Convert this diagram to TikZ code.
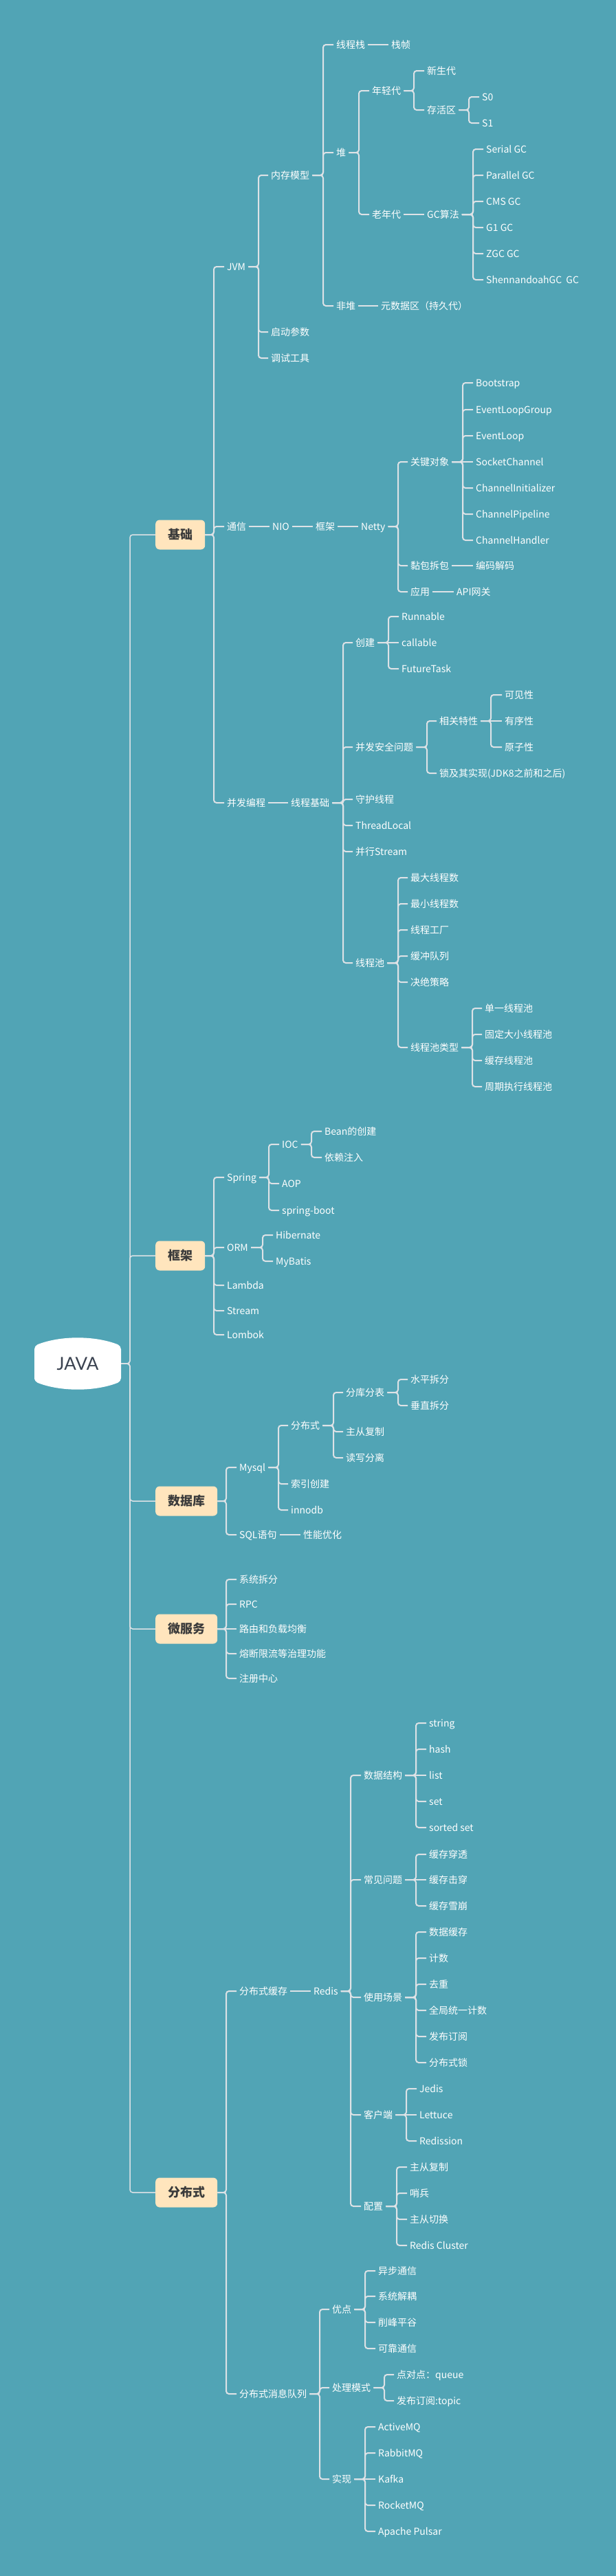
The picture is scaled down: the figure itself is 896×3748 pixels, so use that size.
\documentclass[tikz,border=0pt]{standalone}
\usepackage{fontspec}
\setmainfont{Noto Sans CJK SC}
\newfontfamily\javafont{Lato}
\usetikzlibrary{calc}
\definecolor{bg}{HTML}{51A4B5}
\definecolor{ln}{HTML}{DDE2E6}
\definecolor{boxfill}{HTML}{FFE5BD}
\definecolor{boxtext}{HTML}{3B3B3B}
\definecolor{javatext}{HTML}{3A4250}
\tikzset{
 leaf/.style={anchor=west, inner xsep=4pt, inner ysep=0pt, text height=12pt, text depth=2pt, text=white, font=\fontsize{14}{16}\selectfont},
 topic/.style={anchor=west, fill=boxfill, rounded corners=6pt, minimum height=43pt, inner xsep=18pt, inner ysep=0pt, text=boxtext, font=\bfseries\fontsize{18}{20}\selectfont, text height=15pt, text depth=1.5pt},
 conn/.style={draw=ln, line width=2pt, rounded corners=4pt},
 rootconn/.style={draw=ln, line width=1.5pt, rounded corners=4pt},
}
\newcommand\nd[4]{\node[leaf] (#1) at ({#2-4},#3) {#4};}
\newcommand\lk[3]{\draw[conn] let \p1=(#1.east), \p2=(#3.west) in (\p1) -- (#2pt,\y1) -- (#2pt,\y2) -- (\p2);}
\newcommand\rlk[3]{\draw[rootconn] let \p1=(#1.east), \p2=(#3.west) in (\p1) -- (#2pt,\y1) -- (#2pt,\y2) -- (\p2);}
\newcommand\st[2]{\draw[conn] (#1.east) -- (#2.west);}
\begin{document}
\begin{tikzpicture}[x=1pt,y=-1pt]
\fill[bg] (0,0) rectangle (896,3748);
\useasboundingbox (0,0) rectangle (896,3748);
% root
\fill[white, rounded corners=5pt] (50,2010) -- (50,1958) .. controls (88,1943) and (138,1943) .. (176,1958) -- (176,2010) .. controls (138,2025) and (88,2025) .. (50,2010) -- cycle;
\node[font=\javafont\fontsize{26}{28}\selectfont, text=javatext, minimum width=126pt, minimum height=60pt, inner sep=0pt] (java) at (113,1984) {JAVA};
% main topics
\node[topic] (jichu) at (226,778) {基础};
\node[topic] (kuangjia) at (226,1827) {框架};
\node[topic] (shujuku) at (226,2184) {数据库};
\node[topic] (weifuwu) at (226,2370) {微服务};
\node[topic] (fenbushi) at (226,3190) {分布式};
\rlk{java}{189}{jichu}
\rlk{java}{189}{kuangjia}
\rlk{java}{189}{shujuku}
\rlk{java}{189}{weifuwu}
\rlk{java}{189}{fenbushi}
% ===== 基础 =====
\nd{jvm}{330}{388}{JVM}
\nd{tongxin}{330}{766}{通信}
\nd{bingfa}{330}{1168}{并发编程}
\lk{jichu}{311}{jvm}
\lk{jichu}{311}{tongxin}
\lk{jichu}{311}{bingfa}
% JVM
\nd{ncmx}{394}{255}{内存模型}
\nd{qdcs}{394}{483}{启动参数}
\nd{tsgj}{394}{521}{调试工具}
\lk{jvm}{376}{ncmx}
\lk{jvm}{376}{qdcs}
\lk{jvm}{376}{tsgj}
\nd{xcz}{489}{65}{线程栈}
\nd{dui}{489}{222}{堆}
\nd{fd}{489}{445}{非堆}
\lk{ncmx}{470}{xcz}
\lk{ncmx}{470}{dui}
\lk{ncmx}{470}{fd}
\nd{zz}{569}{65}{栈帧}
\st{xcz}{zz}
\nd{ysj}{554}{445}{元数据区（持久代）}
\st{fd}{ysj}
\nd{nqd}{541}{132}{年轻代}
\nd{lnd}{541}{312}{老年代}
\lk{dui}{522}{nqd}
\lk{dui}{522}{lnd}
\nd{xsd}{621}{103}{新生代}
\nd{chq}{621}{160}{存活区}
\lk{nqd}{602}{xsd}
\lk{nqd}{602}{chq}
\nd{szero}{701}{141}{S0}
\nd{sone}{701}{179}{S1}
\lk{chq}{682}{szero}
\lk{chq}{682}{sone}
\nd{gcsf}{621}{312}{GC算法}
\st{lnd}{gcsf}
\nd{gca}{707}{217}{Serial GC}
\nd{gcb}{707}{255}{Parallel GC}
\nd{gcc}{707}{293}{CMS GC}
\nd{gcd}{707}{331}{G1 GC}
\nd{gce}{707}{369}{ZGC GC}
\nd{gcf}{707}{407}{ShennandoahGC\ \ GC}
\lk{gcsf}{688}{gca}
\lk{gcsf}{688}{gcb}
\lk{gcsf}{688}{gcc}
\lk{gcsf}{688}{gcd}
\lk{gcsf}{688}{gce}
\lk{gcsf}{688}{gcf}
% 通信
\nd{nio}{396}{766}{NIO}
\nd{kjb}{459}{766}{框架}
\nd{netty}{525}{766}{Netty}
\st{tongxin}{nio}
\st{nio}{kjb}
\st{kjb}{netty}
\nd{gjdx}{597}{672}{关键对象}
\nd{nbcb}{597}{823}{黏包拆包}
\nd{yy}{597}{861}{应用}
\lk{netty}{579}{gjdx}
\lk{netty}{579}{nbcb}
\lk{netty}{579}{yy}
\nd{bs}{692}{557}{Bootstrap}
\nd{elg}{692}{596}{EventLoopGroup}
\nd{el}{692}{634}{EventLoop}
\nd{sc}{692}{672}{SocketChannel}
\nd{ci}{692}{710}{ChannelInitializer}
\nd{cp}{692}{748}{ChannelPipeline}
\nd{ch}{692}{786}{ChannelHandler}
\lk{gjdx}{673}{bs}
\lk{gjdx}{673}{elg}
\lk{gjdx}{673}{el}
\st{gjdx}{sc}
\lk{gjdx}{673}{ci}
\lk{gjdx}{673}{cp}
\lk{gjdx}{673}{ch}
\nd{bmjm}{692}{823}{编码解码}
\st{nbcb}{bmjm}
\nd{apiwg}{664}{861}{API网关}
\st{yy}{apiwg}
% 并发编程
\nd{xcjc}{423}{1168}{线程基础}
\st{bingfa}{xcjc}
\nd{cj}{517}{935}{创建}
\nd{bfaq}{517}{1087}{并发安全问题}
\nd{shxc}{517}{1163}{守护线程}
\nd{tl}{517}{1201}{ThreadLocal}
\nd{bxs}{517}{1239}{并行Stream}
\nd{xcc}{517}{1401}{线程池}
\lk{xcjc}{499}{cj}
\lk{xcjc}{499}{bfaq}
\lk{xcjc}{499}{shxc}
\lk{xcjc}{499}{tl}
\lk{xcjc}{499}{bxs}
\lk{xcjc}{499}{xcc}
\nd{runnable}{584}{897}{Runnable}
\nd{callable}{584}{935}{callable}
\nd{ft}{584}{973}{FutureTask}
\lk{cj}{565}{runnable}
\st{cj}{callable}
\lk{cj}{565}{ft}
\nd{xgtx}{639}{1049}{相关特性}
\nd{sjqs}{639}{1125}{锁及其实现(JDK8之前和之后)}
\lk{bfaq}{621}{xgtx}
\lk{bfaq}{621}{sjqs}
\nd{kjx}{734}{1011}{可见性}
\nd{yxx}{734}{1049}{有序性}
\nd{yzx}{734}{1087}{原子性}
\lk{xgtx}{714}{kjx}
\st{xgtx}{yxx}
\lk{xgtx}{714}{yzx}
\nd{zdxc}{597}{1277}{最大线程数}
\nd{zxxc}{597}{1315}{最小线程数}
\nd{xcgc}{597}{1353}{线程工厂}
\nd{hcdl}{597}{1391}{缓冲队列}
\nd{jjcl}{597}{1429}{决绝策略}
\nd{xcclx}{597}{1524}{线程池类型}
\lk{xcc}{579}{zdxc}
\lk{xcc}{579}{zxxc}
\lk{xcc}{579}{xcgc}
\lk{xcc}{579}{hcdl}
\lk{xcc}{579}{jjcl}
\lk{xcc}{579}{xcclx}
\nd{dyxc}{705}{1467}{单一线程池}
\nd{gddx}{705}{1505}{固定大小线程池}
\nd{hcxc}{705}{1543}{缓存线程池}
\nd{zqzx}{705}{1581}{周期执行线程池}
\lk{xcclx}{687}{dyxc}
\lk{xcclx}{687}{gddx}
\lk{xcclx}{687}{hcxc}
\lk{xcclx}{687}{zqzx}
% ===== 框架 =====
\nd{spring}{330}{1713}{Spring}
\nd{orm}{330}{1815}{ORM}
\nd{lambda}{330}{1870}{Lambda}
\nd{stream}{330}{1907}{Stream}
\nd{lombok}{330}{1942}{Lombok}
\lk{kuangjia}{311}{spring}
\lk{kuangjia}{311}{orm}
\lk{kuangjia}{311}{lambda}
\lk{kuangjia}{311}{stream}
\lk{kuangjia}{311}{lombok}
\nd{ioc}{410}{1665}{IOC}
\nd{aop}{410}{1722}{AOP}
\nd{sb}{410}{1761}{spring-boot}
\lk{spring}{391}{ioc}
\lk{spring}{391}{aop}
\lk{spring}{391}{sb}
\nd{bean}{472}{1646}{Bean的创建}
\nd{ylzr}{472}{1684}{依赖注入}
\lk{ioc}{453}{bean}
\lk{ioc}{453}{ylzr}
\nd{hib}{401}{1797}{Hibernate}
\nd{mybatis}{401}{1835}{MyBatis}
\lk{orm}{382}{hib}
\lk{orm}{382}{mybatis}
% ===== 数据库 =====
\nd{mysql}{348}{2135}{Mysql}
\nd{sqlyj}{348}{2233}{SQL语句}
\lk{shujuku}{329}{mysql}
\lk{shujuku}{329}{sqlyj}
\nd{fbsb}{423}{2074}{分布式}
\nd{sycj}{423}{2159}{索引创建}
\nd{innodb}{423}{2197}{innodb}
\lk{mysql}{405}{fbsb}
\lk{mysql}{405}{sycj}
\lk{mysql}{405}{innodb}
\nd{fkfb}{503}{2026}{分库分表}
\nd{zcfz}{503}{2083}{主从复制}
\nd{dxfl}{503}{2121}{读写分离}
\lk{fbsb}{485}{fkfb}
\lk{fbsb}{485}{zcfz}
\lk{fbsb}{485}{dxfl}
\nd{spcf}{597}{2007}{水平拆分}
\nd{czcf}{597}{2045}{垂直拆分}
\lk{fkfb}{579}{spcf}
\lk{fkfb}{579}{czcf}
\nd{xnyh}{441}{2233}{性能优化}
\st{sqlyj}{xnyh}
% ===== 微服务 =====
\nd{xtcf}{348}{2298}{系统拆分}
\nd{rpc}{348}{2334}{RPC}
\nd{lyfz}{348}{2370}{路由和负载均衡}
\nd{rdxl}{348}{2406}{熔断限流等治理功能}
\nd{zczx}{348}{2442}{注册中心}
\lk{weifuwu}{329}{xtcf}
\lk{weifuwu}{329}{rpc}
\st{weifuwu}{lyfz}
\lk{weifuwu}{329}{rdxl}
\lk{weifuwu}{329}{zczx}
% ===== 分布式 =====
\nd{fbshc}{348}{2897}{分布式缓存}
\nd{fbxx}{348}{3483}{分布式消息队列}
\lk{fenbushi}{329}{fbshc}
\lk{fenbushi}{329}{fbxx}
\nd{redis}{456}{2897}{Redis}
\st{fbshc}{redis}
\nd{sjjg}{529}{2583}{数据结构}
\nd{cjwt}{529}{2735}{常见问题}
\nd{sycj2}{529}{2906}{使用场景}
\nd{khd}{529}{3077}{客户端}
\nd{pz}{529}{3210}{配置}
\lk{redis}{510}{sjjg}
\lk{redis}{510}{cjwt}
\lk{redis}{510}{sycj2}
\lk{redis}{510}{khd}
\lk{redis}{510}{pz}
\nd{rstring}{624}{2507}{string}
\nd{rhash}{624}{2545}{hash}
\nd{rlist}{624}{2583}{list}
\nd{rset}{624}{2621}{set}
\nd{rzset}{624}{2659}{sorted set}
\lk{sjjg}{605}{rstring}
\lk{sjjg}{605}{rhash}
\st{sjjg}{rlist}
\lk{sjjg}{605}{rset}
\lk{sjjg}{605}{rzset}
\nd{hcct}{624}{2698}{缓存穿透}
\nd{hcjc}{624}{2735}{缓存击穿}
\nd{hcxb}{624}{2773}{缓存雪崩}
\lk{cjwt}{605}{hcct}
\st{cjwt}{hcjc}
\lk{cjwt}{605}{hcxb}
\nd{sjhc}{624}{2811}{数据缓存}
\nd{js}{624}{2849}{计数}
\nd{qc}{624}{2887}{去重}
\nd{qjty}{624}{2925}{全局统一计数}
\nd{fbdy}{624}{2963}{发布订阅}
\nd{fbss}{624}{3001}{分布式锁}
\lk{sycj2}{605}{sjhc}
\lk{sycj2}{605}{js}
\lk{sycj2}{605}{qc}
\lk{sycj2}{605}{qjty}
\lk{sycj2}{605}{fbdy}
\lk{sycj2}{605}{fbss}
\nd{jedis}{610}{3039}{Jedis}
\nd{lettuce}{610}{3077}{Lettuce}
\nd{redission}{610}{3115}{Redission}
\lk{khd}{591}{jedis}
\st{khd}{lettuce}
\lk{khd}{591}{redission}
\nd{zcfzb}{596}{3153}{主从复制}
\nd{sb2}{596}{3191}{哨兵}
\nd{zcqh}{596}{3229}{主从切换}
\nd{rc}{596}{3267}{Redis Cluster}
\lk{pz}{577}{zcfzb}
\lk{pz}{577}{sb2}
\lk{pz}{577}{zcqh}
\lk{pz}{577}{rc}
\nd{yd}{483}{3360}{优点}
\nd{clms}{483}{3474}{处理模式}
\nd{sx}{483}{3607}{实现}
\lk{fbxx}{465}{yd}
\lk{fbxx}{465}{clms}
\lk{fbxx}{465}{sx}
\nd{ybtx}{550}{3304}{异步通信}
\nd{xtjo}{550}{3341}{系统解耦}
\nd{xfpg}{550}{3379}{削峰平谷}
\nd{kktx}{550}{3417}{可靠通信}
\lk{yd}{531}{ybtx}
\lk{yd}{531}{xtjo}
\lk{yd}{531}{xfpg}
\lk{yd}{531}{kktx}
\nd{ddd}{577}{3455}{点对点：queue}
\nd{fbdyt}{577}{3493}{发布订阅:topic}
\lk{clms}{559}{ddd}
\lk{clms}{559}{fbdyt}
\nd{activemq}{550}{3531}{ActiveMQ}
\nd{rabbitmq}{550}{3569}{RabbitMQ}
\nd{kafka}{550}{3607}{Kafka}
\nd{rocketmq}{550}{3645}{RocketMQ}
\nd{pulsar}{550}{3683}{Apache Pulsar}
\lk{sx}{531}{activemq}
\lk{sx}{531}{rabbitmq}
\st{sx}{kafka}
\lk{sx}{531}{rocketmq}
\lk{sx}{531}{pulsar}
\end{tikzpicture}
\end{document}
